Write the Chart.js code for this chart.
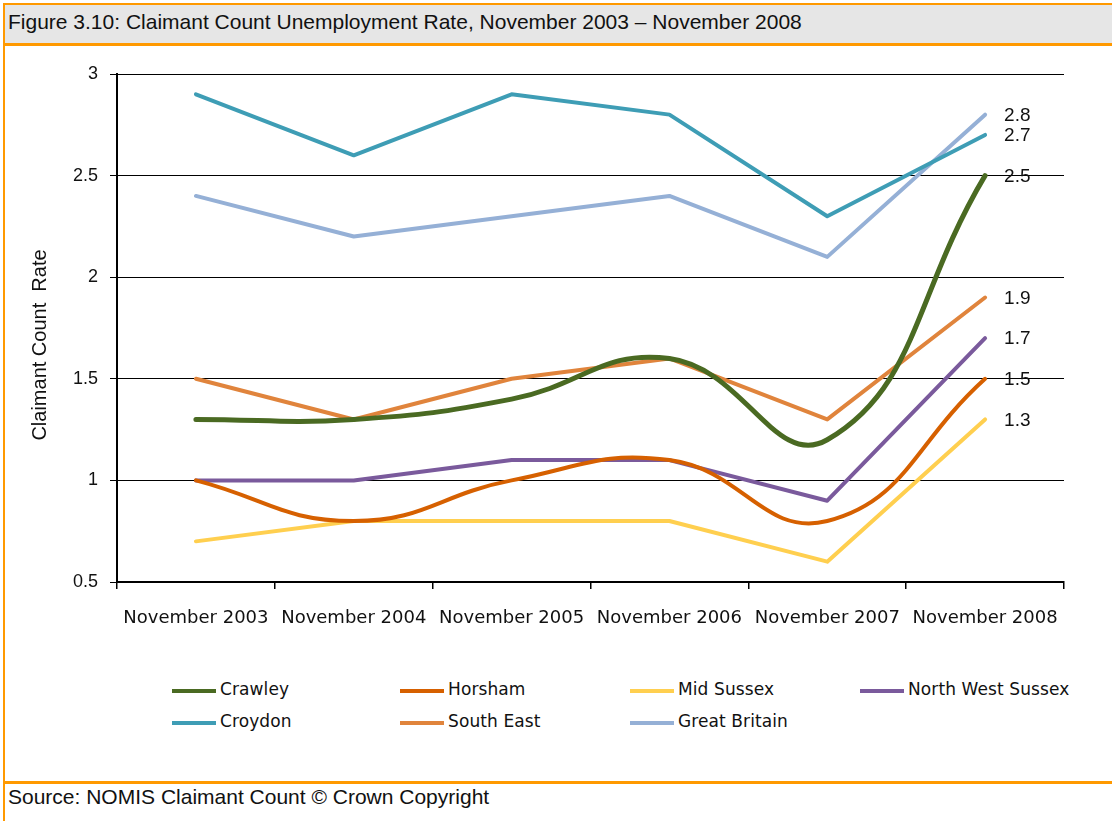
<!DOCTYPE html>
<html>
<head>
<meta charset="utf-8">
<script src="https://cdn.jsdelivr.net/npm/chart.js@4.4.1/dist/chart.umd.min.js"></script>
<style>
  html, body { margin: 0; padding: 0; background: #fff; }
  body { width: 1112px; height: 821px; position: relative; overflow: hidden; font-family: "Liberation Sans", Arial, sans-serif; }
  #titlebar { position: absolute; left: 3px; top: 3px; width: 1109px; height: 38px; background: #e6e6e6;
              border-top: 2px solid #ff9900; border-bottom: 3px solid #ff9900; }
  #titlebar span { position: absolute; left: 5px; top: 5px; font-size: 21px; color: #111; }
  #leftline { position: absolute; left: 3px; top: 3px; width: 2px; height: 818px; background: #ff9900; }
  #bottomline { position: absolute; left: 3px; top: 781px; width: 1109px; height: 3px; background: #ff9900; }
  #source { position: absolute; left: 8px; top: 785px; font-size: 21px; color: #111; }
  #wrap { position: absolute; left: 0; top: 46px; width: 1112px; height: 600px; }
  #legend { position: absolute; left: 0; top: 678px; width: 1112px; height: 64px; }
  .item { position: absolute; height: 24px; font-family: "DejaVu Sans", sans-serif; font-size: 17px; color: #111; white-space: nowrap; letter-spacing: 0.1px; }
  .item i { position: absolute; left: 0; top: 11px; width: 44px; height: 4px; }
  .item b { position: absolute; left: 48px; top: 1px; font-weight: normal; }
</style>
</head>
<body>
<div id="titlebar"><span>Figure 3.10: Claimant Count Unemployment Rate, November 2003 – November 2008</span></div>
<div id="leftline"></div>
<div id="wrap"><canvas id="myCanvas" width="1112" height="600"></canvas></div>
<div id="legend"></div>
<div id="bottomline"></div>
<div id="source">Source: NOMIS Claimant Count © Crown Copyright</div>
<script>
// data
const years = ['November 2003', 'November 2004', 'November 2005', 'November 2006', 'November 2007', 'November 2008'];
const yTicks = [0.5, 1, 1.5, 2, 2.5, 3];
const yTitle = 'Claimant Count  Rate';

const crawley = [1.3, 1.3, 1.4, 1.6, 1.2, 2.5];
const horsham = [1.0, 0.8, 1.0, 1.1, 0.8, 1.5];
const midSussex = [0.7, 0.8, 0.8, 0.8, 0.6, 1.3];
const northWestSussex = [1.0, 1.0, 1.1, 1.1, 0.9, 1.7];
const croydon = [2.9, 2.6, 2.9, 2.8, 2.3, 2.7];
const southEast = [1.5, 1.3, 1.5, 1.6, 1.3, 1.9];
const greatBritain = [2.4, 2.2, 2.3, 2.4, 2.1, 2.8];

function series(label, data, color, width, smooth) {
    return {
        label: label,
        data: data,
        borderColor: color,
        backgroundColor: color,
        borderWidth: width,
        pointRadius: 0,
        tension: smooth ? 0.45 : 0,
        borderCapStyle: 'round',
        borderJoinStyle: 'round',
        fill: false
    };
}

var datasets = [
    series('Crawley', crawley, '#4a6a22', 5, true),
    series('Horsham', horsham, '#d66000', 4, true),
    series('Mid Sussex', midSussex, '#ffcf4f', 4, false),
    series('North West Sussex', northWestSussex, '#7a5a9c', 4, false),
    series('Croydon', croydon, '#3e9db5', 4, false),
    series('South East', southEast, '#e0843c', 4, false),
    series('Great Britain', greatBritain, '#95b0d6', 4, false)
];

// value labels at the last point of each line, plus the y axis title
// (drawn by hand because the original sits a bit below the axis middle)
const endLabels = {
    id: 'endLabels',
    afterDatasetsDraw(chart) {
        const ctx = chart.ctx;
        ctx.save();
        ctx.font = '19px "Liberation Sans", Arial, sans-serif';
        ctx.fillStyle = '#111';
        ctx.textAlign = 'left';
        ctx.textBaseline = 'middle';
        chart.data.datasets.forEach(function (ds, i) {
            const meta = chart.getDatasetMeta(i);
            const last = meta.data[meta.data.length - 1];
            const v = ds.data[ds.data.length - 1];
            ctx.fillText(v.toFixed(1), last.x + 19, last.y + 1);
        });
        const area = chart.chartArea;
        ctx.translate(40, (area.top + area.bottom) / 2 + 17);
        ctx.rotate(-Math.PI / 2);
        ctx.font = '20px "Liberation Sans", Arial, sans-serif';
        ctx.textAlign = 'center';
        ctx.fillText(yTitle, 0, 0);
        ctx.restore();
    }
};

var ctx = document.getElementById('myCanvas').getContext('2d');
var myChart = new Chart(ctx, {
    type: 'line',
    data: { labels: years, datasets: datasets },
    plugins: [endLabels],
    options: {
        responsive: false,
        animation: false,
        layout: { padding: { top: 28, right: 48, left: 0, bottom: 0 } },
        plugins: { legend: { display: false }, tooltip: { enabled: false } },
        scales: {
            x: {
                offset: true,
                grid: { offset: true, drawOnChartArea: false, drawTicks: true, tickLength: 7, color: '#000', lineWidth: 1.5 },
                border: { display: true, color: '#000', width: 2 },
                ticks: { color: '#111', padding: 19, maxRotation: 0, autoSkip: false,
                         font: { family: '"DejaVu Sans", sans-serif', size: 18 } },
                afterFit: function (scale) { scale.height = 64; }
            },
            y: {
                min: 0.5,
                max: 3,
                afterBuildTicks: function (scale) { scale.ticks = yTicks.map(function (v) { return { value: v }; }); },
                grid: { color: '#000', lineWidth: 1, tickLength: 7 },
                border: { display: true, color: '#000', width: 2 },
                ticks: { color: '#111', padding: 12,
                         font: { family: '"Liberation Sans", Arial, sans-serif', size: 18 },
                         callback: function (v) { return String(v); } },
                title: { display: false },
                afterFit: function (scale) { scale.width = 117; }
            }
        }
    }
});

// legend in two rows, four columns, as in the figure
const legendPos = [[172, 0], [400, 0], [630, 0], [860, 0], [172, 32], [400, 32], [630, 32]];
var legend = document.getElementById('legend');
datasets.forEach(function (ds, i) {
    var el = document.createElement('div');
    el.className = 'item';
    el.style.left = legendPos[i][0] + 'px';
    el.style.top = legendPos[i][1] + 'px';
    el.innerHTML = '<i style="background:' + ds.borderColor + '"></i><b>' + ds.label + '</b>';
    legend.appendChild(el);
});
</script>
</body>
</html>
